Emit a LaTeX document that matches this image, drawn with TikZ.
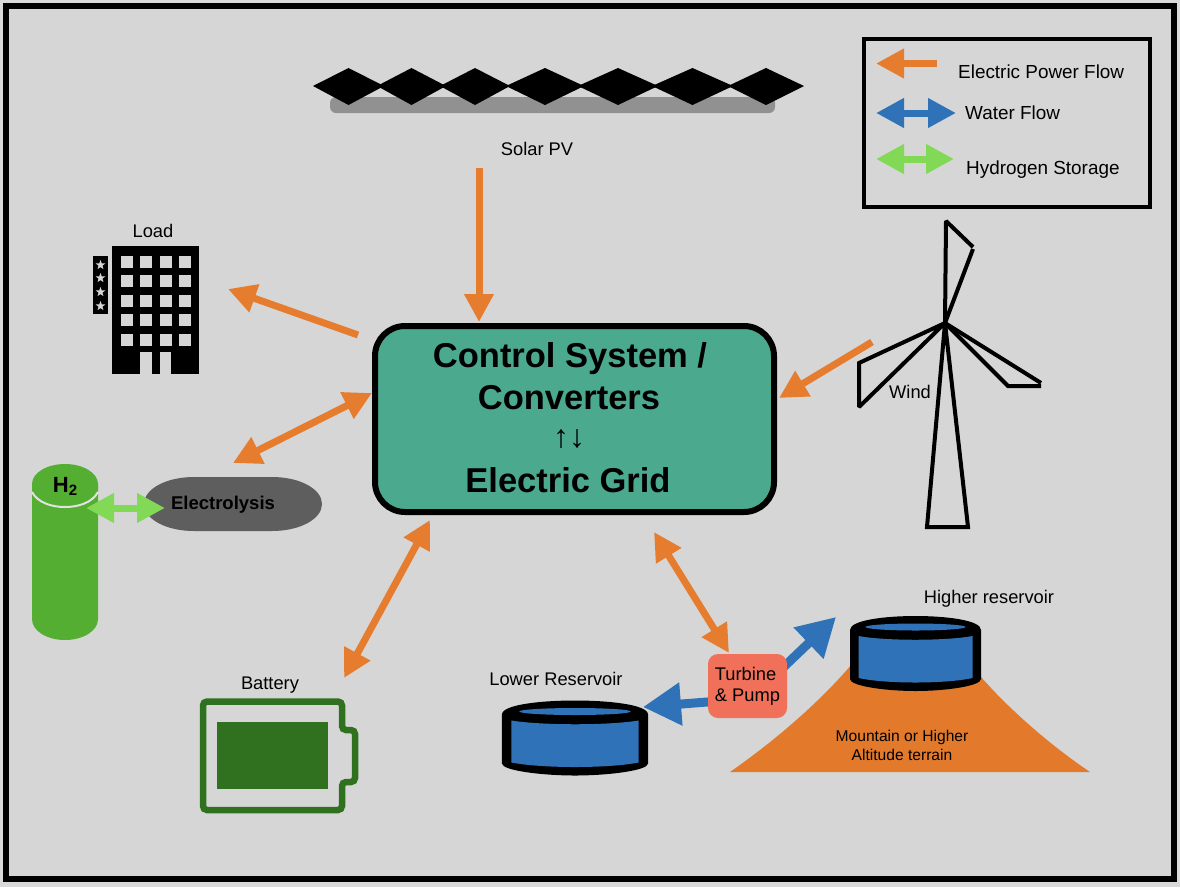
\documentclass[tikz,border=0pt]{standalone}
\usepackage{fontspec}
\setmainfont{Liberation Sans}
\usetikzlibrary{arrows.meta,shapes.geometric}
\definecolor{panel}{HTML}{D6D6D6}
\definecolor{powerc}{HTML}{E67C2E}
\definecolor{waterc}{HTML}{2F72B7}
\definecolor{hydroc}{HTML}{82D955}
\definecolor{gridc}{HTML}{4BA98E}
\definecolor{terrain}{HTML}{E2792B}
\definecolor{tankc}{HTML}{54AE32}
\definecolor{battc}{HTML}{2F711F}
\definecolor{pumpc}{HTML}{F0705A}
\newcommand{\fs}[1]{\fontsize{#1}{#1}\selectfont}
\tikzset{
  >={Triangle[length=28pt,width=28pt]},
  flow/.style={line width=7pt},
  power/.style={flow,draw=powerc},
  water/.style={flow,draw=waterc},
  hydro/.style={flow,draw=hydroc},
  waterbig/.style={line width=9pt,draw=waterc,-{Triangle[length=38pt,width=41pt]}},
  lbl/.style={font=\fs{18.3},inner sep=0pt,text=black},
  legendlbl/.style={font=\fs{18.9},inner sep=0pt,anchor=west},
  headline/.style={font=\fs{34.5}\bfseries,inner sep=0pt},
  panelpv/.style={fill=black,draw=none},
  turbine/.style={line width=4pt,draw=black,line join=miter,miter limit=2},
  windowpane/.style={fill=panel,draw=none},
  reservoir/.pic={
    \fill[black] (-65.5,14) .. controls (-65.5,4) and (-30,0) .. (0,0)
      .. controls (30,0) and (65.5,4) .. (65.5,14) -- (65.5,63)
      .. controls (65.5,70) and (30,75) .. (0,75)
      .. controls (-30,75) and (-65.5,70) .. (-65.5,63) -- cycle;
    \fill[waterc] (-57,20) .. controls (-30,25) and (30,25) .. (57,20) -- (57,62)
      .. controls (30,68) and (-30,68) .. (-57,62) -- cycle;
    \fill[waterc] (0,11) ellipse (50 and 3.5);
  }
}
\begin{document}
\begin{tikzpicture}[x=1pt,y=-1pt]
\useasboundingbox (0,0) rectangle (1180,887);
\fill[panel!92!white] (0,0) rectangle (1180,887);
\draw[line width=6.5pt,black,fill=panel] (6,6) rectangle (1174,879);

% solar array
\fill[rounded corners=6pt,fill=black!43] (330,97) rectangle (775,113);
\foreach \a/\b in {313/384,377/446,440/510,506/584,578/658,652/733,728/804}{
  \fill[panelpv] (\a,86) -- ({(\a+\b)/2},68) -- (\b,86) -- ({(\a+\b)/2},105) -- cycle;
}
\node[lbl] (solar) at (537,149) {Solar PV};

% building
\fill[black] (112,246) rectangle (199,374);
\foreach \wx in {121,140,160,179}{
  \foreach \wy in {256,275,295,314,334}{
    \fill[windowpane] (\wx,\wy) rectangle ++(12,12);
  }
}
\fill[windowpane] (140,352) rectangle (152,374);
\fill[windowpane] (160,352) rectangle (171,374);
\fill[black] (93,256) rectangle (108,314);
\foreach \sy in {265,278,292,306}{
  \node[star,star points=5,star point ratio=2.4,fill=panel,inner sep=0pt,minimum size=10pt] at (100.5,\sy) {};
}
\node[lbl] (load) at (153,231) {Load};

% hydrogen tank and electrolyser
\fill[tankc] (32,484) -- (98,484) -- (98,619)
  .. controls (98,631) and (83,640) .. (65,640)
  .. controls (47,640) and (32,631) .. (32,619) -- cycle;
\draw[panel!70!white,line width=2pt] (32,492) .. controls (38,503) and (52,507) .. (65,507)
  .. controls (78,507) and (92,503) .. (98,492);
\fill[tankc] (65,484) ellipse (33 and 20);
\node[inner sep=0pt,font=\fs{22}\bfseries] (h2) at (65,486) {H\raisebox{-3pt}{\fs{15}\bfseries 2}};
\fill[black!63] (194,477) -- (272,477) .. controls (300,477) and (322,489) .. (322,504)
  .. controls (322,519) and (300,531) .. (272,531) -- (194,531)
  .. controls (166,531) and (144,519) .. (144,504)
  .. controls (144,489) and (166,477) .. (194,477) -- cycle;
\node[inner sep=0pt,font=\fs{18.5}\bfseries] (elec) at (223,505) {Electrolysis};
\coordinate (h2out) at (86,508);
\coordinate (h2in) at (165,508);
\draw[hydro,<->] (h2out) -- (h2in);

% battery
\draw[battc,line width=6.5pt,rounded corners=4pt] (203,701.5) -- (342,701.5) -- (342,730)
  -- (355,730) -- (355,782) -- (342,782) -- (342,810) -- (203,810) -- cycle;
\fill[battc] (217,722) rectangle (328,789);
\node[lbl] (battery) at (270,685) {Battery};

% wind turbine
\coordinate (hub) at (945,323);
\draw[turbine] (hub) -- (946,221) -- (973,247);
\draw[turbine] (973,249) -- (hub);
\draw[turbine] (hub) -- (859,363) -- (859,407) -- cycle;
\draw[turbine] (hub) -- (1041,383);
\draw[turbine] (1041,386) -- (1008,386) -- (hub);
\draw[turbine] (hub) -- (927,527) -- (968,527) -- cycle;
\node[lbl] (wind) at (910,392) {Wind};

% terrain and reservoirs
\fill[terrain] (730,772) .. controls (790,730) and (830,690) .. (852,664) -- (981,677)
  .. controls (1010,710) and (1050,745) .. (1090,772) -- cycle;
\pic at (915.5,616) {reservoir};
\pic[xscale=1.115] at (575,700.5) {reservoir};
\node[inner sep=0pt,font=\fs{15.6},align=center] (mountain) at (902,745.5)
  {Mountain or Higher\\[3pt]Altitude terrain};
\node[lbl] (higher) at (989,598.5) {Higher reservoir};
\node[lbl] (lower) at (556,679) {Lower Reservoir};

% water flow, pump in front of it
\coordinate (upperin) at (836,617);
\coordinate (lowerin) at (643,707);
\draw[waterbig] (770,680) -- (upperin);
\draw[waterbig] (720,701) -- (lowerin);
\node[fill=pumpc,rounded corners=10pt,minimum width=79pt,minimum height=64pt,inner sep=0pt,
  font=\fs{18.3},align=left] (pump) at (747.5,686) {Turbine\\[3pt]\& Pump};

% control system
\node[draw=black,line width=6pt,fill=gridc,rounded corners=30pt,minimum width=399pt,
  minimum height=186pt,inner sep=0pt] (main) at (574.5,419) {};
\node[headline] (ctl) at (570,359) {Control System /};
\node[headline] (conv) at (569,398) {Converters};
\node[inner sep=0pt,font=\fs{32}] (updown) at (569,439) {↑↓};
\node[headline] (egrid) at (568,480) {Electric Grid};

% power flow connectors
\coordinate (solarout) at (479,168);
\coordinate (solarin) at (479,322);
\coordinate (loadout) at (358,335);
\coordinate (loadin) at (228,289);
\coordinate (windout) at (872,342);
\coordinate (windin) at (779,398);
\coordinate (gridw) at (372,393);
\coordinate (elecin) at (233,463);
\coordinate (grids) at (430,520);
\coordinate (battin) at (344,678);
\coordinate (gridse) at (654,532);
\coordinate (pumpin) at (729,653);
\draw[power,->] (solarout) -- (solarin);
\draw[power,->] (loadout) -- (loadin);
\draw[power,->] (windout) -- (windin);
\draw[power,<->] (gridw) -- (elecin);
\draw[power,<->] (grids) -- (battin);
\draw[power,<->] (gridse) -- (pumpin);

% legend
\draw[black,line width=4pt] (864,39) rectangle (1150,207);
\coordinate (leg1a) at (937,63.5); \coordinate (leg1b) at (876,63.5);
\coordinate (leg2a) at (876,113); \coordinate (leg2b) at (956,113);
\coordinate (leg3a) at (876,159); \coordinate (leg3b) at (954,159);
\draw[power,->] (leg1a) -- (leg1b);
\draw[water,<->] (leg2a) -- (leg2b);
\draw[hydro,<->] (leg3a) -- (leg3b);
\node[legendlbl] (leg1) at (958,72) {Electric Power Flow};
\node[legendlbl] (leg2) at (965,113) {Water Flow};
\node[legendlbl] (leg3) at (966,170) {Hydrogen Storage};
\end{tikzpicture}
\end{document}
